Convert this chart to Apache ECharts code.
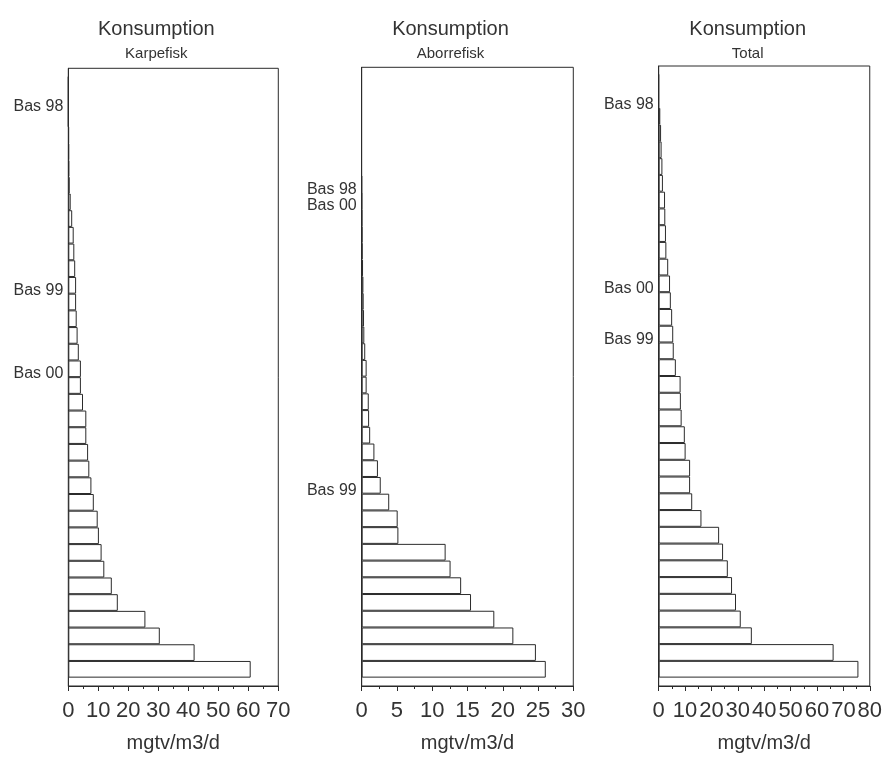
<!DOCTYPE html>
<html><head><meta charset="utf-8">
<script src="https://cdn.jsdelivr.net/npm/echarts@6/dist/echarts.min.js"></script>
<style>html,body{margin:0;padding:0;background:#fff}#c{width:885px;height:758px}</style>
</head><body><div id="c"></div>
<script>
// ---- data (values listed from bottom bar upward) ----
const mainTitle = 'Konsumption';
const subTitles = ['Karpefisk', 'Aborrefisk', 'Total'];
const unitName = 'mgtv/m3/d';

const karpefisk = [60.8, 42.1, 30.5, 25.7, 16.5, 14.5, 12.0, 11.1, 10.2, 9.8, 8.5, 7.7, 7.0, 6.6, 6.0, 6.0, 4.9, 4.2,
  4.2, 3.5, 3.1, 2.8, 2.6, 2.6, 2.3, 2.0, 1.8, 1.3, 0.8, 0.45, 0.3, 0.25, 0.2, 0, 0, 0];
const aborrefisk = [26.1, 24.7, 21.5, 18.8, 15.5, 14.1, 12.6, 11.9, 5.2, 5.1, 3.9, 2.7, 2.3, 1.8, 1.2, 1.05, 1.0, 0.7,
  0.7, 0.5, 0.37, 0.33, 0.28, 0.24, 0.19, 0.1, 0.08, 0.05, 0.03, 0];
const total = [75.7, 66.3, 35.3, 31.1, 29.3, 27.8, 26.2, 24.4, 22.9, 16.2, 12.7, 11.9, 11.9, 10.2, 9.9, 8.7, 8.4, 8.3,
  6.5, 5.7, 5.5, 5.1, 4.6, 4.3, 3.6, 2.9, 2.75, 2.5, 2.4, 1.6, 1.4, 1.1, 0.9, 0.6, 0, 0];

// labelled bars: [name, position counted from the bottom bar]
const basKarpefisk = [['Bas 00', 18], ['Bas 99', 23], ['Bas 98', 34]];
const basAborrefisk = [['Bas 99', 11], ['Bas 00', 28], ['Bas 98', 29]];
const basTotal = [['Bas 99', 20], ['Bas 00', 23], ['Bas 98', 34]];

const xMax = [70, 30, 80];
const xStep = [10, 5, 10];
const bandCount = 36;

// ---- layout ----
const frames = [
  {left: 68.3, top: 68.3, width: 210, height: 621.7},
  {left: 361.7, top: 67.3, width: 211.6, height: 621.7},
  {left: 658.7, top: 66, width: 212, height: 620.7}
];
const textColor = '#333';
const lineColor = '#2b2b2b';
const font = 'Liberation Sans, Arial, sans-serif';

const seriesValues = [karpefisk, aborrefisk, total];
const basLists = [basKarpefisk, basAborrefisk, basTotal];

function buildCategories(bas) {
  const cats = [];
  for (let j = 0; j < bandCount + 2; j++) cats.push('');
  bas.forEach(([name, pos]) => { cats[pos + 1] = name; });
  return cats;
}
function buildData(vals) {
  const d = [null];
  for (let i = 0; i < bandCount; i++) d.push(i < vals.length ? vals[i] : null);
  d.push(null);
  return d;
}

const option = {
  animation: false,
  backgroundColor: '#fff',
  title: [], grid: [], xAxis: [], yAxis: [], series: []
};

frames.forEach((f, k) => {
  option.grid.push({left: f.left, top: f.top, width: f.width, height: f.height,
    show: true, borderColor: lineColor, borderWidth: 1, backgroundColor: 'transparent'});
  option.title.push({
    text: mainTitle, subtext: subTitles[k],
    left: f.left + f.width / 2 - 22, top: 14, textAlign: 'center', itemGap: 7,
    textStyle: {fontFamily: font, fontSize: 20, fontWeight: 'normal', color: textColor},
    subtextStyle: {fontFamily: font, fontSize: 15, color: textColor}
  });
  option.xAxis.push({
    type: 'value', gridIndex: k, min: 0, max: xMax[k], interval: xStep[k],
    name: unitName, nameLocation: 'middle', nameGap: 47,
    nameTextStyle: {fontFamily: font, fontSize: 20, color: textColor},
    axisLine: {show: true, lineStyle: {color: lineColor, width: 1}},
    axisTick: {show: true, length: 5, lineStyle: {color: lineColor}},
    minorTick: {show: true, splitNumber: 2, length: 3, lineStyle: {color: lineColor}},
    splitLine: {show: false},
    axisLabel: {fontFamily: font, fontSize: 22, color: textColor, margin: 14}
  });
  option.yAxis.push({
    type: 'category', gridIndex: k, boundaryGap: false,
    data: buildCategories(basLists[k]),
    axisLine: {show: true, lineStyle: {color: lineColor, width: 1}},
    axisTick: {show: false},
    splitLine: {show: false},
    axisLabel: {interval: 0, fontFamily: font, fontSize: 16, color: textColor, margin: 5,
      verticalAlign: 'top', lineHeight: 10}
  });
  option.series.push({
    type: 'bar', xAxisIndex: k, yAxisIndex: k,
    data: buildData(seriesValues[k]),
    barCategoryGap: '0%',
    itemStyle: {color: '#fff', borderColor: lineColor, borderWidth: 1}
  });
});

const chart = echarts.init(document.getElementById('c'), null, {renderer: 'canvas'});
chart.setOption(option);
</script>
</body></html>
